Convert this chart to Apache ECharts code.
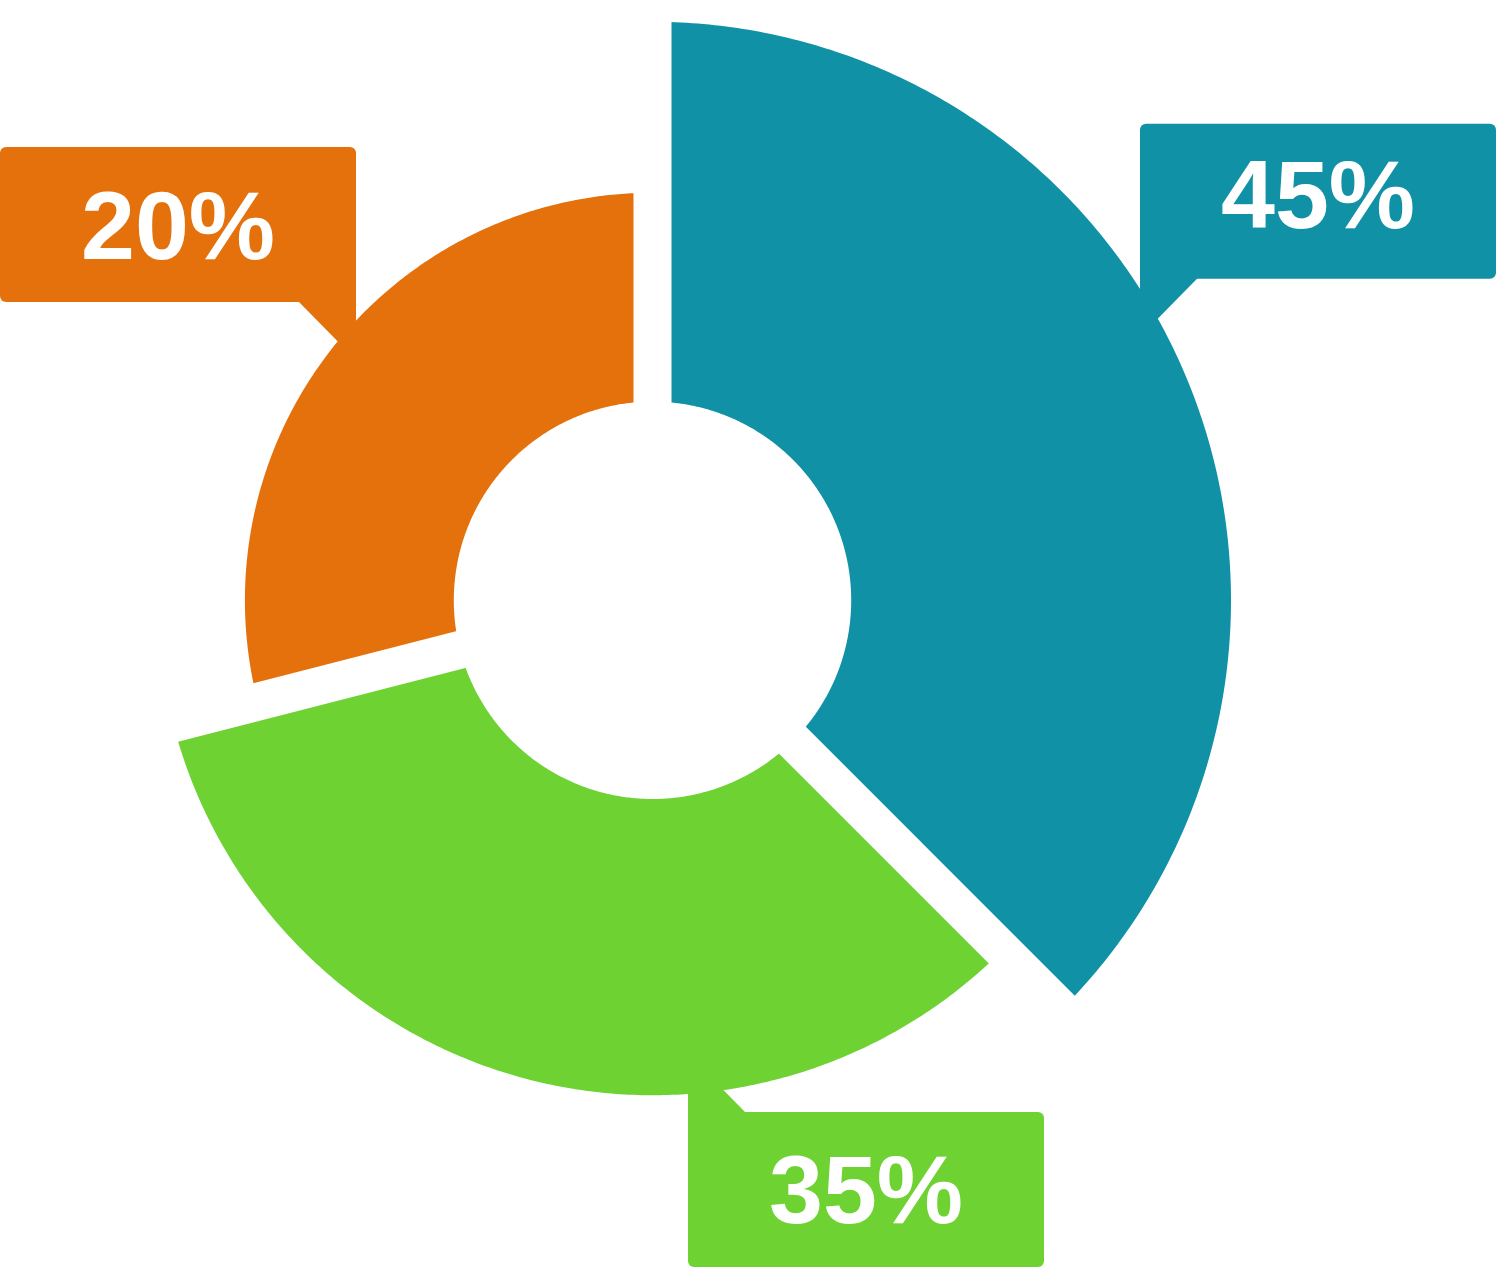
<!DOCTYPE html>
<html>
<head>
<meta charset="utf-8">
<style>
html,body{margin:0;padding:0;background:#ffffff;}
#chart{width:1496px;height:1268px;}
</style>
<script src="https://cdn.jsdelivr.net/npm/echarts@6/dist/echarts.min.js"></script>
</head>
<body>
<div id="chart"></div>
<script>
// ---- data ----
const categories = ['Segment A', 'Segment B', 'Segment C'];
const shareLabels = [45, 35, 20];          // printed percentages
const angleShares = [37.5, 33.5, 29];      // angular extent of each slice (share of full turn)
const radialValues = [100, 78, 55];        // outer reach of each slice on the radius axis (0..100)
const sliceColors = ['#1091A6', '#6ED232', '#E4710C'];

// ---- layout / style (not data) ----
const CENTER = [652.5, 600.3];
const RADIUS = [198.7, 578.5];
const GAP = 38;
const BOX_W = 356, BOX_H = 155, TAIL = 58;
const labelLayout = [
  { dx: 487.5,  dy: -476.5, tail: 'bottom-left',  textDy: 0 },
  { dx: 35.5,   dy: 511.8,  tail: 'top-left',     textDy: 7 },
  { dx: -652.5, dy: -453.2, tail: 'bottom-right', textDy: 8 }
];

// table for the library: [start, end, radial, label]
const rows = [];
let acc = 0;
for (let i = 0; i < categories.length; i++) {
  rows.push({ name: categories[i], value: [acc, acc + angleShares[i], radialValues[i], shareLabels[i]] });
  acc += angleShares[i];
}

function renderItem(params, api) {
  const i = params.dataIndex;
  const s = api.value(0), e = api.value(1), rv = api.value(2);
  const cs = params.coordSys;
  const cx = cs.cx, cy = cs.cy;
  const N = 240;
  const pts = [];
  for (let k = 0; k <= N; k++) {
    const v = s + (e - s) * k / N;
    const p = api.coord([rv, v]);
    pts.push([p[0], p[1]]);
  }
  for (let k = N; k >= 0; k--) {
    const v = s + (e - s) * k / N;
    const p = api.coord([0, v]);
    pts.push([p[0], p[1]]);
  }
  const far = api.coord([115, s]);
  const L = labelLayout[i];
  const bx = cx + L.dx, by = cy + L.dy;
  let tailPts, rr;
  if (L.tail === 'bottom-left') {
    tailPts = [[bx, by + BOX_H - 1], [bx + TAIL, by + BOX_H - 1], [bx, by + BOX_H + TAIL]];
    rr = [6, 6, 6, 0];
  } else if (L.tail === 'top-left') {
    tailPts = [[bx, by + 1], [bx + TAIL, by + 1], [bx, by - TAIL]];
    rr = [0, 6, 6, 6];
  } else {
    tailPts = [[bx + BOX_W, by + BOX_H - 1], [bx + BOX_W - TAIL, by + BOX_H - 1], [bx + BOX_W, by + BOX_H + TAIL]];
    rr = [6, 6, 0, 6];
  }
  const color = sliceColors[i];
  return {
    type: 'group',
    children: [
      { type: 'polygon', z2: 1, shape: { points: pts }, style: { fill: color } },
      { type: 'line', z2: 5, shape: { x1: cx, y1: cy, x2: far[0], y2: far[1] },
        style: { stroke: '#ffffff', lineWidth: GAP } },
      { type: 'polygon', z2: 10, shape: { points: tailPts }, style: { fill: color } },
      { type: 'rect', z2: 10, shape: { x: bx, y: by, width: BOX_W, height: BOX_H, r: rr }, style: { fill: color } },
      { type: 'text', z2: 12, style: {
          text: api.value(3) + '%', x: bx + BOX_W / 2, y: by + BOX_H / 2 + L.textDy,
          align: 'center', verticalAlign: 'middle', fill: '#ffffff',
          font: 'bold 97px "Liberation Sans", Arial, sans-serif' } }
    ]
  };
}

const chart = echarts.init(document.getElementById('chart'), null, { renderer: 'canvas' });
chart.setOption({
  backgroundColor: '#ffffff',
  animation: false,
  polar: { center: CENTER, radius: RADIUS },
  angleAxis: { type: 'value', min: 0, max: 100, startAngle: 90, clockwise: true, show: false },
  radiusAxis: { type: 'value', min: 0, max: 100, show: false },
  tooltip: { show: false },
  series: [{
    type: 'custom',
    coordinateSystem: 'polar',
    renderItem: renderItem,
    data: rows,
    silent: true
  }]
});
</script>
</body>
</html>
